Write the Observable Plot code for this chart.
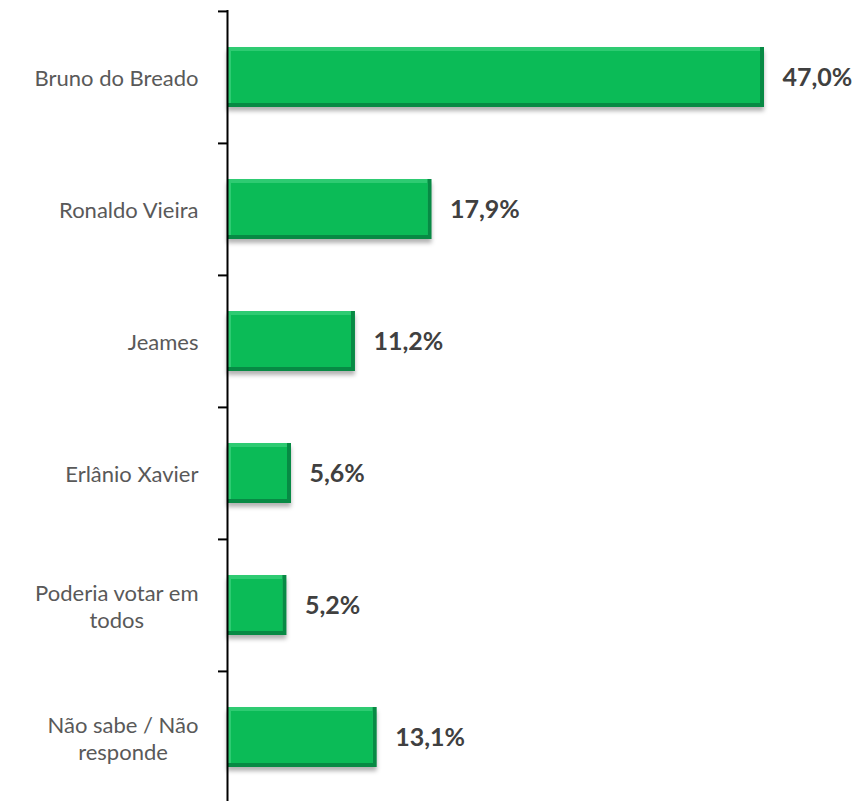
<!DOCTYPE html>
<html>
<head>
<meta charset="utf-8">
<script src="https://cdn.jsdelivr.net/npm/d3@7"></script>
<script src="https://cdn.jsdelivr.net/npm/@observablehq/plot@0.6"></script>
<style>
  html, body { margin: 0; padding: 0; background: #fff; }
</style>
</head>
<body>
<div id="chart"></div>
<script>
const categories = ["Bruno do Breado", "Ronaldo Vieira", "Jeames", "Erlânio Xavier", "Poderia votar em\ntodos", "Não sabe / Não\nresponde"];
const values = [47.0, 17.9, 11.2, 5.6, 5.2, 13.1];

const data = categories.map((name, i) => ({name, value: values[i]}));
const fmt = v => d3.format(".1f")(v).replace(".", ",") + "%";

const yRange = [10, 803];
const step = (yRange[1] - yRange[0]) / categories.length;

const chart = Plot.plot({
  width: 857,
  height: 801,
  marginLeft: 227,
  marginRight: 93,
  marginTop: 10,
  marginBottom: 0,
  style: {fontFamily: "Lato, 'Open Sans', sans-serif", background: "#fff"},
  x: {domain: [0, 47], axis: null},
  y: {domain: categories, range: yRange, paddingInner: 0.547, paddingOuter: 0.2735, label: null, axis: null},
  marks: [
    Plot.axisY({tickSize: 9, dy: -step / 2, tickFormat: () => "", strokeWidth: 2, stroke: "#000"}),
    Plot.axisY({tickSize: 0, tickPadding: 29, fontSize: 22, fill: "#595959", lineHeight: 1.22, label: null}),
    Plot.barX(data, {x: "value", y: "name", fill: "#078a44"}),
    Plot.barX(data, {x: "value", y: "name", fill: "#2ecb72", insetBottom: 4, insetRight: 4}),
    Plot.barX(data, {x: "value", y: "name", fill: "#0bbb57", inset: 4}),
    Plot.ruleX([0], {stroke: "#000", strokeWidth: 2}),
    Plot.text(data, {x: "value", y: "name", text: d => fmt(d.value), dx: 18, textAnchor: "start", fontWeight: "bold", fontSize: 25, fill: "#404040"})
  ]
});

document.getElementById("chart").appendChild(chart);

// drop shadow on the base bars
const barGroups = chart.querySelectorAll('g[aria-label="bar"]');
if (barGroups.length) barGroups[0].style.filter = "drop-shadow(0px 4px 2px rgba(0,0,0,0.3))";

// center multi-line category labels within their block
chart.querySelectorAll("text").forEach(t => {
  const spans = t.querySelectorAll("tspan");
  if (spans.length > 1) {
    const w = t.getBBox().width;
    t.setAttribute("text-anchor", "middle");
    spans.forEach(s => s.setAttribute("x", -w / 2));
  }
});
</script>
</body>
</html>
